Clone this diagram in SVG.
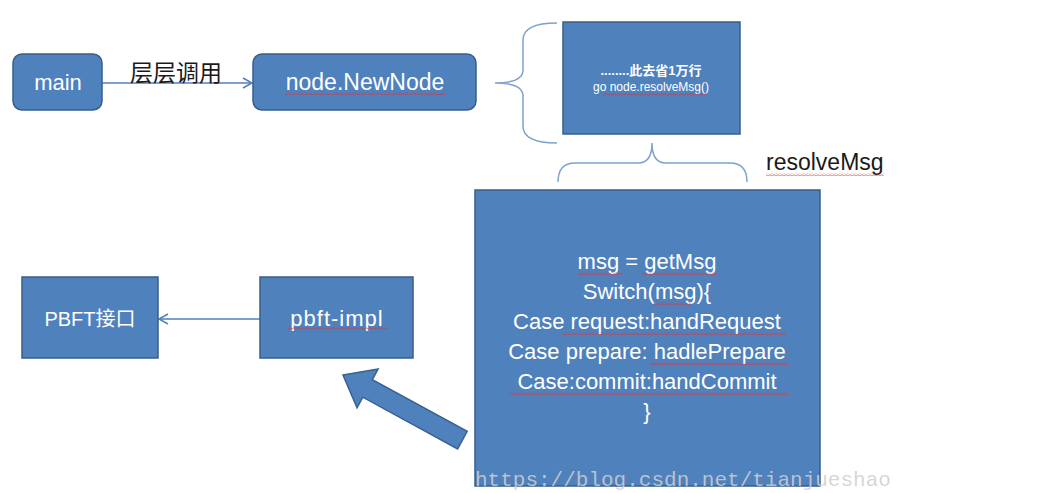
<svg xmlns="http://www.w3.org/2000/svg" width="1063" height="493" viewBox="0 0 1063 493">
<style>
.box{fill:#4f81bd;stroke:#385d8a;stroke-width:1.5}
.wt{fill:#ffffff;font-family:"Liberation Sans","Noto Sans CJK SC",sans-serif;text-anchor:middle}
.conn{fill:none;stroke:#4f81bd;stroke-width:1.5}
.brace{fill:none;stroke:#7ea1cf;stroke-width:1.5}
.sq{fill:url(#wave)}
</style>
<defs>
<pattern id="wave" width="4" height="3" patternUnits="userSpaceOnUse">
<path d="M0 2.2 L2 0.6 L4 2.2" fill="none" stroke="#e23030" stroke-width="0.7"/>
</pattern>
<marker id="open" markerWidth="12" markerHeight="12" refX="10" refY="6" orient="auto" markerUnits="userSpaceOnUse">
<path d="M1 1 L10 6 L1 11" fill="none" stroke="#4f81bd" stroke-width="1.5"/>
</marker>
</defs>
<rect width="1063" height="493" fill="#ffffff"/>

<g id="connectors">
<line class="conn" x1="102" y1="83" x2="252" y2="83" marker-end="url(#open)"/>
<line class="conn" x1="260" y1="319" x2="159" y2="319" marker-end="url(#open)"/>
<path class="brace" d="M557,23 Q523,23 523,40 L523,70 Q523,83 495,83 Q523,83 523,96 L523,126 Q523,143 557,143"/>
<path class="brace" d="M558,182 Q558,163 575,163 L638,163 Q652,163 652,143 Q652,163 666,163 L730,163 Q747,163 747,182"/>
<polygon transform="translate(343,375) rotate(28.6)" points="0,0 28,-22 28,-10 136,-10 136,10 28,10 28,22" fill="#4f81bd" stroke="#3a6190" stroke-width="1.5"/>
</g>

<g id="label-call">
<text x="176" y="81" font-size="23" fill="#1a1a1a" text-anchor="middle" font-family="Noto Sans CJK SC,sans-serif">层层调用</text>
</g>

<g id="main">
<rect class="box" x="13" y="54" width="89" height="56" rx="9"/>
<text class="wt" x="58" y="90" font-size="22">main</text>
</g>

<g id="newnode">
<rect class="box" x="253" y="54" width="223" height="56" rx="9"/>
<text class="wt" x="365" y="90" font-size="23">node.NewNode</text>
<rect class="sq" x="285" y="92" width="160" height="3"/>
</g>

<g id="go-box">
<rect class="box" x="563" y="22" width="177" height="112"/>
<text class="wt" x="651" y="75" font-size="13" font-weight="bold">........此去省1万行</text>
<text class="wt" x="651" y="91" font-size="12">go node.resolveMsg()</text>
<rect class="sq" x="603" y="93" width="104" height="3"/>
</g>

<g id="resolve-label">
<text x="766" y="170" font-size="23" fill="#1a1a1a" font-family="Liberation Sans,sans-serif">resolveMsg</text>
<rect class="sq" x="766" y="173" width="118" height="3"/>
</g>

<g id="resolve-box">
<rect class="box" x="475" y="190" width="345" height="296"/>
<g class="wt" font-size="22">
<text x="647" y="269">msg = getMsg</text>
<text x="647" y="299">Switch(msg){</text>
<text x="647" y="329">Case request:handRequest</text>
<text x="647" y="359">Case prepare: hadlePrepare</text>
<text x="647" y="389">Case:commit:handCommit</text>
<text x="647" y="419">}</text>
</g>
<rect class="sq" x="578" y="272" width="44" height="3"/>
<rect class="sq" x="642" y="272" width="75" height="3"/>
<rect class="sq" x="653" y="302" width="38" height="3"/>
<rect class="sq" x="562" y="332" width="224" height="3"/>
<rect class="sq" x="650" y="362" width="139" height="3"/>
<rect class="sq" x="509" y="392" width="280" height="3"/>
</g>

<g id="pbft">
<rect class="box" x="22" y="277" width="136" height="81"/>
<text class="wt" x="90" y="326" font-size="20">PBFT接口</text>
</g>

<g id="pbft-impl">
<rect class="box" x="260" y="277" width="153" height="81"/>
<text class="wt" x="337" y="326" font-size="22" letter-spacing="1">pbft-impl</text>
<rect class="sq" x="288" y="327" width="100" height="3"/>
</g>

<text x="475" y="486" font-size="21" fill="#cfcfcf" fill-opacity="0.85" font-family="Liberation Mono,monospace">https://blog.csdn.net/tianjueshao</text>
</svg>
